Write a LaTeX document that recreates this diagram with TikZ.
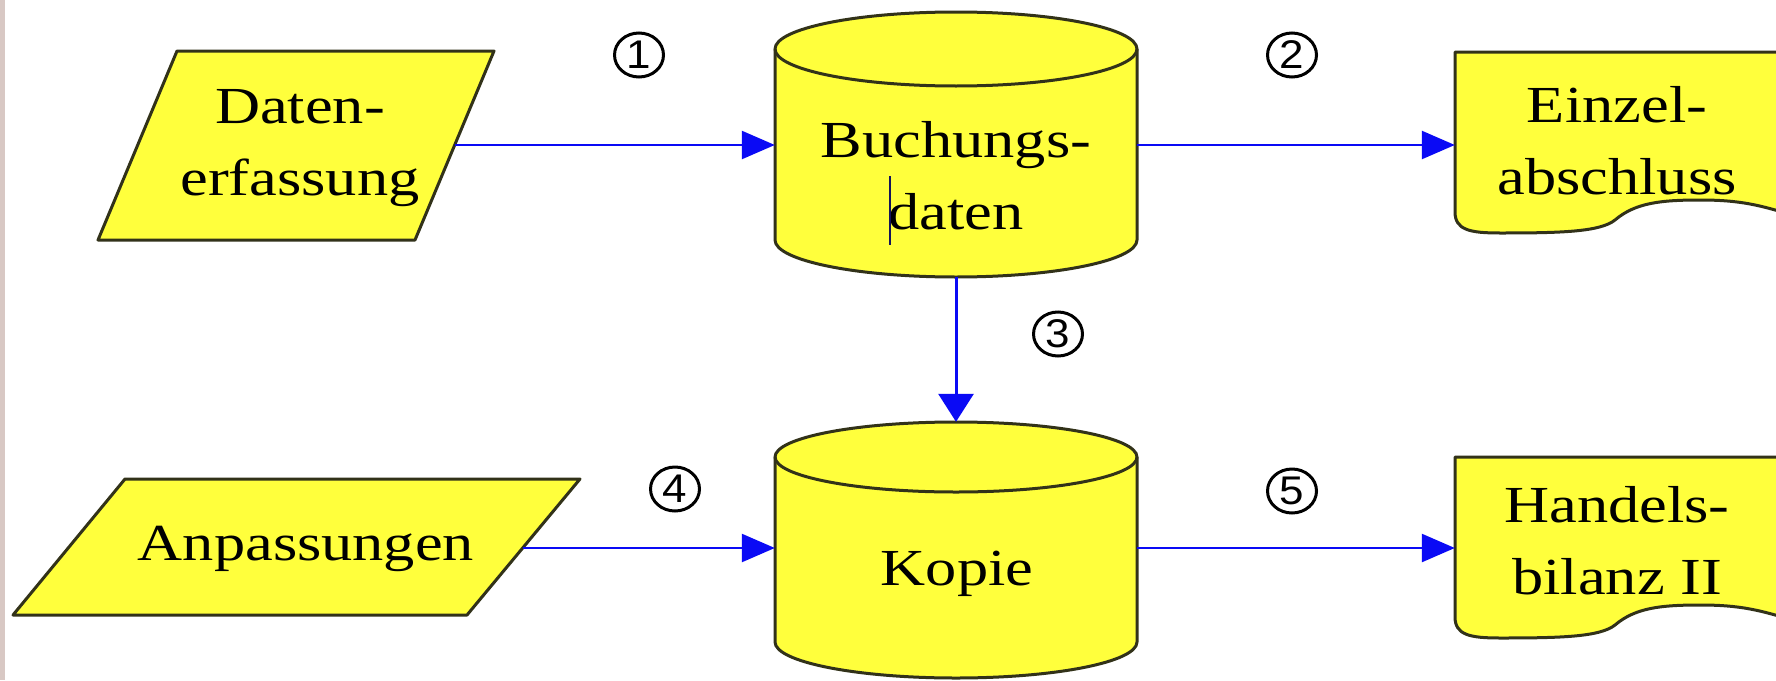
\documentclass[tikz,border=0pt]{standalone}
\usepackage{fontspec}
\setmainfont[FakeStretch=1.2]{Liberation Serif}
\newfontfamily\numfont[FakeStretch=1.1]{Liberation Sans}
\usetikzlibrary{arrows.meta,shapes.geometric}
\definecolor{fillyel}{RGB}{255,255,60}
\definecolor{edgecol}{RGB}{50,50,25}
\definecolor{arrblue}{RGB}{10,10,245}
\definecolor{stripcol}{RGB}{216,200,196}
\definecolor{cursorcol}{RGB}{20,20,90}
\newcommand\lstrut{\rule[-30pt]{0pt}{60pt}}
\begin{document}
\begin{tikzpicture}[x=1pt,y=1pt,
  shp/.style={fill=fillyel, draw=edgecol, line width=3pt, line join=round},
  edgeline/.style={draw=edgecol, line width=3pt},
  lbl/.style={font=\fontsize{52}{72}\selectfont, align=center, inner sep=0pt, text=black},
  areabox/.style={draw=none, inner sep=0pt},
  num/.style={ellipse, draw=black, line width=3pt, inner sep=0pt,
    minimum width=49pt, minimum height=44pt, font=\numfont\fontsize{40}{40}\selectfont},
  harr/.style={draw=arrblue, line width=2.5pt, -{Triangle[length=33pt,width=28pt]}},
  varr/.style={draw=arrblue, line width=3pt, -{Triangle[length=28pt,width=35pt]}}]
\useasboundingbox (0,0) rectangle (1776,-680);
\clip (0,0) rectangle (1776,-680);
\fill[white] (0,0) rectangle (1776,-680);
\fill[stripcol] (0,0) rectangle (5,-680);

% parallelogram A
\path[shp] (177,-51) -- (494,-51) -- (415,-240) -- (98,-240) -- cycle;
\node[lbl] (tPA) at (300,-157) {Daten-\lstrut\\erfassung\lstrut};
\coordinate (pAe) at (455,-145);

% parallelogram B
\path[shp] (125,-479) -- (580,-479) -- (467,-615) -- (13,-615) -- cycle;
\node[lbl] (tPB) at (306,-558) {Anpassungen\lstrut};
\coordinate (pBe) at (523,-548);

% cylinder A
\path[shp] (775,-49) -- (775,-240) arc[start angle=180,end angle=360,x radius=181,y radius=37]
  -- (1137,-49) arc[start angle=0,end angle=180,x radius=181,y radius=37] -- cycle;
\draw[edgeline] (775,-49) arc[start angle=180,end angle=360,x radius=181,y radius=37];
\node[areabox, minimum width=362pt, minimum height=265pt] (cylA) at (956,-144.5) {};
\node[lbl] (tA) at (956,-190) {Buchungs-\lstrut\\daten\lstrut};
\draw[cursorcol, line width=1.5pt] (890,-176) -- (890,-245);

% cylinder B
\path[shp] (775,-457) -- (775,-642) arc[start angle=180,end angle=360,x radius=181,y radius=36]
  -- (1137,-457) arc[start angle=0,end angle=180,x radius=181,y radius=35] -- cycle;
\draw[edgeline] (775,-457) arc[start angle=180,end angle=360,x radius=181,y radius=35];
\node[areabox, minimum width=362pt, minimum height=256pt] (cylB) at (956,-550) {};
\node[lbl] (tB) at (957,-583) {Kopie\lstrut};

% documents
\foreach \dy in {0,-405} {
  \path[shp, shift={(0,\dy)}] (1455,-52) -- (1455,-212)
    .. controls (1455,-230) and (1470,-233) .. (1500,-233)
    .. controls (1560,-233) and (1600,-232) .. (1615,-220)
    .. controls (1635,-203) and (1660,-200) .. (1700,-200)
    .. controls (1740,-200) and (1760,-205) .. (1795,-216)
    -- (1795,-52) -- cycle;
}
\node[areabox, minimum width=321pt, minimum height=181pt] (docA) at (1615.5,-142.5) {};
\node[areabox, minimum width=321pt, minimum height=181pt] (docB) at (1615.5,-547.5) {};
\node[lbl] (tDA) at (1617,-155) {Einzel-\lstrut\\abschluss\lstrut};
\node[lbl] (tDB) at (1617,-555) {Handels-\lstrut\\bilanz II\lstrut};

% connectors
\draw[harr] (pAe) -- (pAe -| cylA.west);
\draw[harr] (cylA.east |- pAe) -- (docA.west |- pAe);
\draw[varr] (cylA.south) -- (cylB.north);
\draw[harr] (pBe) -- (pBe -| cylB.west);
\draw[harr] (cylB.east |- pBe) -- (docB.west |- pBe);

% step numbers
\node[num] (n1) at (639,-55) {1};
\node[num] (n2) at (1292,-55) {2};
\node[num] (n3) at (1058,-334) {3};
\node[num] (n4) at (675,-489) {4};
\node[num] (n5) at (1292,-491) {5};
\end{tikzpicture}
\end{document}
